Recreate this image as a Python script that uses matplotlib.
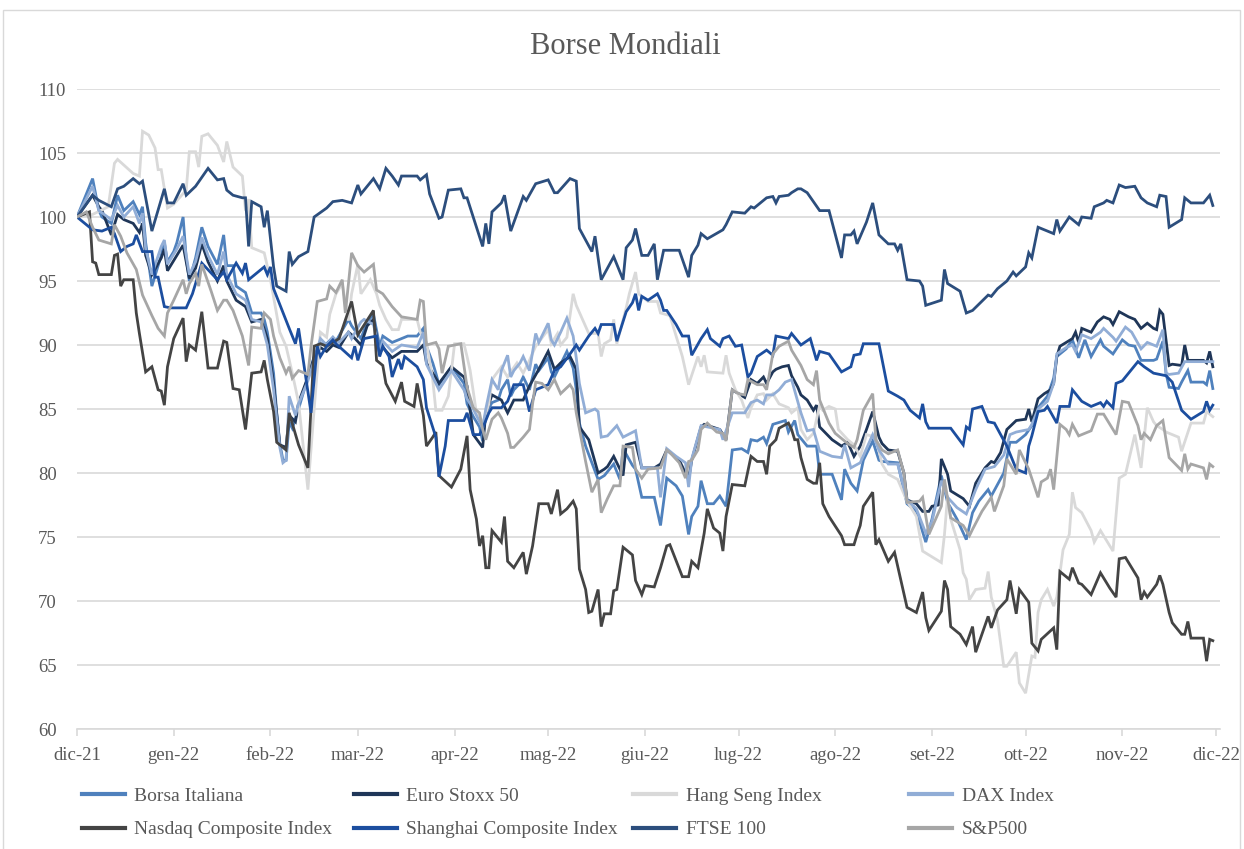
import numpy as np
import pandas as pd
import matplotlib
matplotlib.use("Agg")
import matplotlib.pyplot as plt
import matplotlib.dates as mdates
from matplotlib.lines import Line2D
from matplotlib.patches import Rectangle

plt.rcParams['font.family'] = ['Liberation Serif', 'DejaVu Serif']

# DATA: day offsets from 1 Dec 2021, index level (base 100)
START = "2021-12-01"
MONTH_LABELS = ['dic-21', 'gen-22', 'feb-22', 'mar-22', 'apr-22', 'mag-22', 'giu-22',
                'lug-22', 'ago-22', 'set-22', 'ott-22', 'nov-22', 'dic-22']

borsa_days = [0, 5, 7, 8, 11, 13, 15, 18, 20, 21, 22, 24, 27, 28, 29, 31, 32, 34, 35, 36, 38, 40, 42, 45, 47, 48, 50, 51, 54, 56, 59, 60, 61, 63, 64, 65, 66, 67, 68, 69, 71, 74, 76, 78, 80, 82, 83, 87, 88, 91, 93, 95, 97, 98, 101, 104, 106, 109, 111, 112, 114, 115, 116, 120, 121, 124, 125, 127, 129, 130, 131, 133, 135, 136, 138, 139, 140, 142, 143, 145, 147, 148, 151, 152, 153, 155, 157, 159, 160, 161, 163, 167, 169, 172, 174, 175, 178, 179, 181, 185, 187, 189, 192, 194, 196, 197, 199, 200, 202, 204, 206, 208, 210, 213, 215, 216, 218, 220, 221, 223, 227, 228, 230, 231, 234, 237, 238, 242, 245, 246, 248, 250, 252, 255, 257, 258, 263, 266, 269, 272, 274, 277, 279, 282, 285, 287, 289, 292, 293, 295, 297, 299, 301, 304, 306, 308, 311, 313, 314, 317, 319, 321, 323, 325, 328, 329, 332, 335, 337, 339, 341, 345, 346, 348, 349, 350, 353, 354, 356, 357, 361, 362, 363, 364]
borsa_vals = [100, 103.0, 100.5, 100.0, 99.5, 101.7, 100.5, 101.2, 100.2, 100.8, 98.0, 94.6, 97.0, 98.0, 96.5, 97.3, 98.0, 100.0, 96.8, 95.0, 96.8, 99.2, 97.7, 96.3, 98.6, 96.2, 96.2, 94.6, 94.1, 92.5, 92.5, 92.0, 91.0, 87.8, 84.7, 82.3, 81.0, 81.0, 84.0, 83.5, 85.0, 87.5, 89.1, 90.1, 90.1, 90.6, 90.3, 92.0, 91.5, 90.5, 91.8, 92.4, 89.9, 90.7, 90.2, 90.5, 90.7, 90.7, 91.3, 89.9, 88.6, 87.8, 86.9, 88.3, 88.0, 87.0, 85.4, 84.4, 83.6, 82.5, 84.7, 85.5, 85.7, 86.5, 87.3, 86.0, 86.5, 87.0, 87.5, 86.5, 88.5, 88.0, 89.0, 87.9, 87.5, 88.5, 89.5, 88.2, 86.5, 83.9, 82.1, 79.5, 79.8, 80.7, 79.5, 81.9, 80.6, 80.3, 78.1, 78.1, 75.9, 79.6, 79.0, 78.2, 75.2, 76.6, 77.4, 79.4, 77.6, 77.6, 78.2, 77.4, 81.8, 81.9, 81.6, 82.6, 82.5, 82.8, 82.3, 83.8, 84.1, 83.2, 84.1, 83.0, 82.1, 82.1, 79.9, 79.9, 77.9, 80.3, 79.2, 78.6, 81.0, 82.5, 81.0, 80.9, 80.8, 77.6, 77.0, 74.6, 76.4, 79.8, 77.7, 76.4, 74.8, 76.9, 77.8, 78.7, 78.2, 79.1, 80.0, 82.4, 82.4, 83.0, 83.7, 85.1, 86.0, 87.4, 89.1, 89.7, 90.4, 89.0, 90.4, 89.1, 90.4, 89.9, 89.3, 90.4, 90.0, 89.9, 88.8, 88.8, 88.9, 90.3, 87.8, 86.7, 86.6, 87.1, 88.0, 87.1, 87.1, 86.9, 88.0, 86.6]

euro_days = [0, 5, 7, 8, 11, 13, 15, 18, 20, 21, 22, 24, 27, 28, 29, 32, 34, 36, 38, 40, 42, 45, 47, 48, 51, 54, 56, 59, 61, 63, 65, 67, 68, 70, 71, 74, 76, 78, 80, 82, 84, 87, 88, 91, 93, 95, 97, 98, 101, 104, 109, 111, 112, 116, 120, 124, 125, 127, 130, 131, 133, 136, 138, 140, 143, 145, 148, 151, 153, 155, 158, 160, 161, 164, 167, 169, 170, 172, 175, 176, 179, 181, 185, 187, 189, 193, 196, 197, 200, 201, 206, 208, 210, 214, 216, 218, 220, 221, 223, 224, 226, 228, 229, 231, 232, 234, 236, 237, 238, 240, 242, 245, 247, 249, 251, 253, 255, 257, 258, 260, 263, 265, 266, 269, 271, 273, 274, 276, 277, 279, 280, 282, 284, 286, 288, 291, 293, 294, 296, 298, 301, 304, 305, 306, 308, 310, 312, 313, 314, 315, 317, 319, 320, 321, 322, 325, 327, 329, 331, 332, 334, 337, 339, 341, 343, 345, 346, 347, 348, 350, 351, 354, 355, 356, 361, 362, 363, 364]
euro_vals = [100, 101.7, 100.8, 100.5, 98.6, 100.2, 99.8, 99.5, 98.8, 99.5, 97.0, 95.5, 96.8, 97.5, 95.8, 97.0, 97.8, 95.2, 96.0, 97.9, 96.5, 95.0, 96.2, 95.0, 93.5, 93.0, 91.8, 92.0, 90.5, 87.0, 82.2, 82.0, 84.5, 84.0, 85.5, 87.5, 89.0, 89.8, 89.5, 90.0, 89.8, 91.0, 90.8, 90.0, 91.5, 92.0, 89.3, 89.8, 89.0, 89.5, 89.5, 90.0, 88.6, 87.0, 88.3, 87.5, 86.8, 83.0, 82.0, 84.7, 86.1, 85.7, 84.7, 85.7, 85.7, 86.8, 88.1, 89.5, 88.1, 88.6, 89.1, 88.1, 83.6, 82.6, 80.0, 80.3, 80.5, 81.3, 79.8, 82.2, 82.4, 80.4, 80.4, 80.7, 81.8, 81.0, 79.5, 81.0, 83.6, 83.8, 83.4, 82.6, 86.5, 85.9, 87.3, 87.0, 87.5, 87.0, 87.9, 88.1, 88.3, 88.4, 87.6, 86.7, 86.1, 85.7, 84.9, 85.3, 83.6, 83.1, 82.6, 82.1, 82.4, 81.3, 82.1, 83.4, 84.8, 82.8, 82.3, 81.8, 81.7, 80.0, 77.9, 77.6, 77.0, 77.0, 77.4, 77.5, 81.1, 79.9, 78.6, 78.3, 78.0, 77.4, 79.2, 80.4, 80.9, 80.8, 81.6, 83.4, 84.1, 84.2, 85.0, 84.0, 85.8, 86.2, 86.5, 87.0, 89.1, 89.9, 90.2, 90.5, 91.0, 90.2, 91.3, 91.0, 91.8, 92.2, 92.0, 91.6, 92.6, 92.2, 92.0, 91.3, 91.7, 91.3, 91.2, 92.7, 92.4, 88.4, 88.5, 88.4, 90.0, 88.8, 88.8, 88.6, 89.5, 88.3]

hangseng_days = [0, 5, 10, 12, 13, 18, 20, 21, 23, 25, 26, 27, 29, 31, 35, 36, 38, 39, 40, 42, 45, 47, 48, 50, 53, 54, 55, 56, 59, 60, 62, 65, 67, 69, 71, 74, 76, 78, 80, 81, 83, 85, 87, 88, 90, 91, 94, 96, 97, 99, 101, 103, 104, 109, 110, 112, 114, 115, 117, 119, 120, 121, 124, 125, 126, 128, 130, 132, 133, 136, 138, 139, 141, 143, 145, 147, 151, 152, 154, 155, 157, 159, 160, 162, 164, 167, 168, 169, 171, 172, 173, 176, 177, 179, 180, 183, 186, 187, 190, 192, 194, 196, 199, 200, 201, 202, 207, 208, 209, 211, 213, 215, 216, 218, 220, 221, 223, 225, 228, 229, 231, 232, 234, 236, 238, 239, 241, 243, 244, 247, 249, 251, 253, 256, 258, 260, 263, 266, 269, 271, 273, 277, 278, 279, 280, 283, 284, 285, 286, 288, 291, 292, 293, 295, 297, 298, 301, 302, 304, 306, 307, 308, 309, 311, 313, 314, 316, 318, 319, 320, 322, 325, 326, 328, 332, 334, 336, 339, 341, 343, 345, 346, 348, 349, 353, 354, 357, 361, 362, 364]
hangseng_vals = [100, 100.2, 100.8, 104.2, 104.5, 103.4, 103.2, 106.7, 106.4, 105.4, 103.7, 103.7, 100.7, 101.0, 102.1, 105.1, 105.1, 103.9, 106.3, 106.5, 105.6, 104.3, 105.9, 103.9, 103.2, 100.5, 101.4, 97.6, 97.3, 97.2, 95.1, 91.0, 89.9, 87.8, 85.5, 78.7, 85.0, 91.0, 90.6, 92.4, 94.0, 94.8, 91.9, 94.0, 96.3, 94.0, 95.1, 94.0, 93.1, 92.0, 91.2, 91.2, 92.0, 92.0, 91.0, 90.2, 87.3, 84.9, 84.9, 86.0, 88.0, 90.1, 90.1, 89.1, 88.0, 84.7, 83.9, 85.4, 87.3, 88.3, 87.5, 87.9, 88.6, 87.8, 88.8, 89.9, 91.2, 90.1, 90.9, 90.0, 90.6, 94.0, 93.1, 92.0, 90.9, 90.9, 89.1, 90.1, 90.4, 92.0, 90.1, 92.9, 94.0, 95.7, 94.0, 93.4, 93.4, 92.5, 92.3, 90.7, 89.1, 86.9, 89.1, 88.3, 89.2, 87.9, 87.8, 89.2, 87.8, 86.5, 85.7, 84.3, 85.1, 86.1, 86.2, 85.7, 86.2, 85.4, 85.1, 84.7, 85.1, 83.4, 82.6, 83.1, 85.3, 84.9, 85.2, 85.0, 83.4, 82.6, 82.2, 81.3, 83.0, 82.8, 80.7, 79.9, 79.5, 77.8, 76.6, 73.9, 73.6, 73.0, 75.2, 78.2, 76.4, 74.0, 72.2, 71.7, 70.1, 70.9, 71.0, 72.3, 70.3, 68.5, 64.9, 64.9, 66.0, 63.6, 62.8, 65.7, 65.6, 69.1, 70.1, 70.9, 69.6, 70.3, 74.0, 75.2, 78.5, 77.3, 76.9, 75.5, 74.6, 75.5, 73.9, 79.6, 79.9, 83.0, 80.4, 85.1, 84.0, 83.7, 83.4, 83.2, 82.8, 81.7, 83.9, 83.9, 84.8, 84.4]

dax_days = [0, 5, 7, 11, 13, 15, 18, 20, 21, 22, 24, 27, 28, 29, 32, 34, 36, 38, 40, 42, 45, 47, 48, 51, 54, 56, 59, 61, 63, 65, 66, 67, 68, 70, 71, 74, 76, 78, 80, 82, 84, 87, 88, 91, 92, 95, 97, 98, 101, 104, 109, 111, 112, 114, 116, 120, 124, 125, 127, 130, 131, 133, 135, 136, 138, 139, 140, 142, 143, 145, 147, 148, 151, 152, 153, 155, 157, 159, 160, 161, 163, 166, 167, 168, 170, 173, 175, 179, 181, 186, 187, 189, 192, 195, 196, 197, 200, 202, 206, 207, 210, 214, 216, 218, 220, 221, 223, 225, 227, 229, 232, 234, 236, 238, 242, 245, 246, 248, 251, 255, 257, 260, 263, 266, 269, 272, 274, 277, 279, 282, 285, 288, 291, 294, 297, 299, 301, 305, 306, 308, 311, 313, 314, 317, 319, 320, 322, 325, 328, 329, 332, 333, 336, 338, 341, 343, 346, 348, 349, 350, 353, 355, 357, 364]
dax_vals = [100, 102.4, 100.5, 99.8, 100.9, 100.0, 100.8, 99.5, 100.3, 97.5, 95.5, 97.7, 98.2, 96.3, 97.5, 98.5, 95.5, 96.5, 98.4, 97.0, 95.5, 97.3, 95.5, 94.0, 93.5, 92.0, 91.8, 90.0, 86.5, 82.0, 80.8, 81.0, 86.0, 84.5, 85.4, 87.2, 88.8, 90.5, 90.0, 90.6, 90.2, 91.0, 90.5, 91.8, 92.0, 91.6, 89.5, 90.3, 89.5, 90.0, 89.8, 91.0, 88.5, 87.5, 86.5, 88.0, 86.5, 85.8, 85.0, 83.5, 85.0, 87.3, 86.5, 88.0, 89.2, 87.5, 88.0, 88.6, 89.1, 88.0, 90.9, 90.2, 91.7, 90.4, 90.0, 91.0, 92.1, 90.7, 89.0, 87.0, 84.7, 85.0, 84.8, 82.8, 82.9, 83.7, 82.8, 83.3, 80.4, 80.4, 78.1, 81.9, 81.3, 80.8, 78.9, 81.1, 83.7, 83.6, 83.4, 82.6, 84.7, 84.7, 85.5, 85.7, 85.4, 86.1, 86.1, 86.5, 87.1, 87.3, 84.7, 83.3, 83.4, 81.7, 81.3, 81.2, 82.2, 80.4, 80.8, 83.0, 81.8, 80.7, 80.7, 77.9, 77.2, 75.3, 76.2, 79.4, 78.1, 77.3, 76.8, 78.7, 80.3, 80.5, 81.4, 83.0, 83.2, 83.4, 83.8, 85.0, 85.6, 87.0, 89.3, 89.8, 90.0, 89.5, 90.8, 90.5, 91.0, 91.3, 90.6, 90.3, 91.4, 91.0, 89.7, 90.2, 89.9, 91.2, 87.8, 87.7, 87.8, 88.7, 88.7, 88.7]

nasdaq_days = [0, 4, 5, 6, 7, 11, 12, 13, 14, 15, 18, 19, 20, 22, 24, 26, 27, 28, 29, 31, 34, 35, 36, 38, 40, 42, 45, 47, 48, 50, 52, 54, 56, 59, 60, 61, 63, 64, 67, 68, 71, 74, 76, 78, 80, 82, 84, 88, 90, 95, 96, 98, 99, 102, 104, 105, 108, 109, 111, 112, 114, 115, 116, 120, 123, 125, 126, 128, 129, 130, 131, 132, 133, 136, 137, 138, 140, 143, 144, 146, 148, 151, 152, 154, 155, 157, 159, 160, 161, 163, 164, 165, 167, 168, 169, 171, 172, 173, 175, 178, 179, 181, 182, 185, 187, 189, 190, 194, 196, 197, 199, 201, 202, 204, 206, 207, 208, 210, 214, 216, 218, 220, 221, 222, 224, 225, 228, 229, 230, 231, 232, 234, 236, 237, 238, 239, 241, 245, 246, 249, 250, 251, 252, 255, 256, 257, 260, 262, 266, 269, 271, 272, 273, 277, 278, 279, 280, 283, 285, 287, 288, 292, 293, 295, 298, 299, 301, 302, 305, 306, 308, 309, 313, 314, 315, 317, 318, 319, 321, 322, 325, 328, 331, 333, 334, 336, 337, 340, 341, 342, 343, 346, 347, 348, 350, 351, 354, 355, 356, 357, 361, 362, 363, 364]
nasdaq_vals = [100, 100.4, 96.5, 96.4, 95.5, 95.5, 97.0, 97.1, 94.6, 95.1, 95.1, 92.5, 90.9, 87.9, 88.3, 86.5, 86.4, 85.3, 88.3, 90.5, 92.1, 88.7, 90.0, 89.6, 92.6, 88.2, 88.2, 90.3, 90.2, 86.6, 86.5, 83.4, 87.8, 87.9, 88.8, 87.3, 84.8, 82.4, 81.8, 84.7, 82.2, 80.4, 89.9, 90.1, 89.9, 90.2, 90.5, 93.4, 90.8, 92.7, 88.8, 88.4, 87.0, 85.6, 87.1, 85.6, 85.2, 87.0, 84.5, 82.1, 82.8, 83.2, 79.8, 78.9, 80.3, 82.9, 78.7, 76.4, 74.3, 75.1, 72.6, 72.6, 75.5, 74.6, 76.6, 73.1, 72.6, 73.8, 72.1, 74.3, 77.6, 77.6, 76.8, 78.7, 76.8, 77.2, 77.8, 77.2, 72.5, 70.9, 69.1, 69.2, 70.9, 68.0, 69.0, 69.0, 70.8, 70.9, 74.2, 73.6, 71.6, 70.5, 71.2, 71.1, 72.6, 74.3, 74.4, 71.9, 71.9, 73.1, 72.6, 75.3, 77.2, 75.7, 75.3, 73.9, 76.6, 79.1, 79.0, 81.3, 80.9, 80.9, 79.9, 82.1, 82.6, 83.5, 83.9, 83.4, 82.6, 82.6, 81.2, 79.5, 79.2, 79.2, 80.8, 77.6, 76.6, 75.1, 74.4, 74.4, 75.2, 75.9, 77.4, 78.5, 74.4, 74.8, 73.1, 73.8, 69.5, 69.1, 70.7, 68.7, 67.7, 69.2, 71.6, 70.9, 68.0, 67.4, 66.6, 68.0, 66.0, 68.8, 67.9, 69.3, 70.1, 71.6, 69.0, 70.9, 69.9, 66.7, 66.1, 67.0, 67.9, 66.2, 72.3, 71.9, 71.7, 72.6, 71.4, 71.3, 70.5, 72.2, 71.0, 70.3, 73.3, 73.4, 73.0, 71.8, 70.1, 70.7, 70.3, 71.3, 72.0, 71.3, 69.1, 68.3, 67.4, 67.4, 68.4, 67.1, 67.1, 65.3, 67.0, 66.9]

shanghai_days = [0, 5, 8, 11, 12, 14, 16, 18, 19, 21, 24, 25, 26, 28, 30, 35, 37, 40, 45, 47, 48, 51, 53, 54, 55, 60, 61, 62, 63, 68, 70, 71, 75, 77, 78, 80, 82, 83, 88, 89, 90, 92, 96, 97, 98, 100, 101, 103, 104, 105, 109, 111, 112, 115, 116, 118, 119, 124, 125, 127, 129, 130, 132, 133, 136, 138, 140, 143, 145, 147, 151, 153, 155, 158, 160, 161, 164, 166, 167, 168, 172, 173, 176, 178, 179, 180, 181, 183, 186, 187, 188, 189, 192, 194, 196, 197, 200, 202, 203, 206, 207, 209, 211, 213, 215, 216, 218, 221, 223, 224, 228, 229, 232, 235, 237, 238, 241, 245, 248, 249, 251, 252, 257, 260, 263, 265, 267, 270, 271, 272, 273, 280, 284, 285, 286, 287, 290, 292, 294, 298, 301, 304, 305, 306, 308, 310, 311, 314, 315, 318, 319, 322, 325, 328, 329, 330, 332, 333, 335, 337, 340, 342, 345, 349, 351, 354, 357, 361, 362, 363, 364]
shanghai_vals = [100, 99.0, 98.9, 99.2, 98.7, 97.3, 97.7, 97.9, 98.6, 97.3, 97.3, 95.3, 95.3, 93.0, 92.9, 92.9, 94.0, 96.4, 95.1, 95.7, 95.1, 96.4, 95.6, 96.4, 95.1, 96.1, 95.5, 96.1, 94.4, 91.3, 90.1, 91.3, 84.7, 89.9, 89.1, 89.9, 90.4, 90.1, 89.0, 89.9, 88.8, 90.5, 90.7, 89.1, 89.9, 89.1, 87.5, 88.9, 88.1, 89.1, 88.3, 87.3, 85.1, 82.8, 79.7, 82.1, 84.1, 84.1, 84.7, 83.0, 83.0, 83.5, 84.7, 85.1, 85.1, 85.6, 86.9, 86.9, 84.8, 86.5, 86.9, 88.0, 88.3, 89.3, 90.0, 89.6, 90.7, 91.3, 90.9, 91.6, 91.6, 90.3, 92.6, 93.3, 94.0, 92.7, 93.8, 93.5, 94.0, 93.5, 92.7, 92.7, 91.6, 90.7, 90.7, 89.2, 90.5, 91.2, 90.5, 89.9, 90.5, 90.7, 89.9, 90.0, 87.5, 87.8, 89.1, 89.6, 89.2, 90.7, 90.5, 90.9, 90.0, 90.5, 88.8, 89.5, 89.3, 87.9, 88.3, 89.2, 89.3, 90.1, 90.1, 86.4, 86.0, 85.7, 84.9, 84.3, 85.4, 84.0, 83.5, 83.5, 82.2, 83.6, 83.4, 85.0, 85.2, 84.0, 83.9, 82.1, 80.3, 80.0, 82.1, 82.9, 84.8, 84.9, 85.2, 83.9, 85.2, 85.2, 86.5, 85.6, 85.2, 85.5, 85.2, 85.6, 85.1, 87.0, 87.2, 87.8, 88.7, 88.3, 87.8, 87.6, 87.1, 84.9, 84.2, 84.8, 85.6, 84.9, 85.3]

ftse_days = [0, 5, 7, 11, 13, 15, 18, 20, 21, 24, 28, 29, 31, 34, 35, 38, 42, 45, 47, 48, 50, 53, 54, 55, 56, 59, 60, 61, 63, 64, 67, 68, 69, 71, 74, 76, 80, 82, 85, 88, 90, 91, 95, 97, 99, 101, 103, 104, 109, 110, 112, 113, 116, 117, 119, 123, 124, 125, 130, 131, 132, 133, 136, 137, 139, 143, 144, 147, 151, 153, 154, 158, 160, 161, 165, 166, 168, 172, 175, 176, 178, 179, 181, 183, 185, 186, 188, 193, 196, 197, 199, 200, 202, 207, 208, 210, 214, 216, 217, 221, 223, 224, 225, 228, 229, 231, 232, 234, 236, 238, 241, 245, 246, 248, 249, 250, 253, 255, 257, 260, 262, 263, 264, 266, 270, 271, 272, 277, 278, 279, 283, 285, 287, 292, 293, 295, 298, 300, 301, 304, 305, 306, 308, 311, 313, 314, 315, 318, 321, 322, 325, 326, 329, 330, 332, 334, 336, 339, 341, 343, 346, 347, 349, 350, 354, 355, 357, 361, 363, 364]
ftse_vals = [100.0, 101.7, 101.3, 100.8, 102.2, 102.4, 103.0, 102.6, 102.8, 98.9, 102.2, 101.1, 101.1, 102.6, 101.7, 102.4, 103.8, 102.9, 103.0, 102.1, 101.7, 101.5, 101.5, 97.7, 101.2, 100.8, 99.2, 100.5, 96.1, 94.6, 94.2, 97.3, 96.3, 96.9, 97.3, 100.0, 100.7, 101.2, 101.3, 101.1, 102.5, 101.8, 103.0, 102.2, 103.8, 103.2, 102.5, 103.2, 103.2, 102.9, 103.3, 101.8, 99.9, 100.0, 102.1, 102.2, 101.5, 101.5, 97.7, 99.5, 97.9, 100.4, 101.1, 101.7, 98.9, 101.6, 101.3, 102.6, 102.9, 101.9, 101.9, 103.0, 102.8, 99.1, 97.3, 98.5, 95.1, 96.9, 95.1, 97.6, 98.2, 99.1, 97.0, 97.0, 97.9, 95.1, 97.4, 97.4, 95.3, 97.0, 97.8, 98.7, 98.3, 99.0, 99.4, 100.4, 100.3, 100.8, 100.7, 101.5, 101.6, 101.1, 101.6, 101.7, 101.9, 102.2, 102.2, 101.9, 101.2, 100.5, 100.5, 96.8, 98.6, 98.6, 98.9, 97.9, 99.6, 101.1, 98.6, 97.9, 97.9, 97.4, 97.9, 95.1, 95.0, 94.6, 93.1, 93.5, 95.9, 94.8, 94.2, 92.5, 92.7, 93.9, 93.8, 94.4, 95.0, 95.7, 95.4, 96.1, 97.2, 96.8, 99.2, 98.9, 98.7, 99.8, 98.9, 100.0, 99.4, 100.0, 99.9, 100.8, 101.1, 101.3, 101.1, 102.5, 102.3, 102.4, 101.5, 101.1, 100.8, 101.7, 101.6, 99.2, 99.8, 101.5, 101.1, 101.1, 101.7, 100.9]

sp500_days = [0, 3, 5, 7, 11, 12, 14, 16, 19, 21, 24, 26, 28, 29, 31, 34, 35, 36, 38, 39, 40, 43, 45, 47, 48, 50, 53, 55, 56, 59, 60, 62, 63, 65, 67, 68, 69, 71, 74, 75, 77, 80, 81, 83, 84, 85, 86, 87, 88, 90, 92, 95, 96, 98, 101, 104, 109, 110, 111, 112, 115, 116, 117, 119, 123, 125, 127, 129, 130, 131, 133, 135, 136, 138, 139, 140, 143, 145, 146, 147, 149, 151, 153, 155, 158, 159, 160, 163, 165, 167, 168, 170, 172, 174, 175, 178, 179, 181, 183, 187, 189, 190, 193, 195, 196, 197, 199, 200, 202, 205, 207, 208, 210, 212, 214, 215, 218, 220, 221, 223, 225, 228, 229, 232, 234, 236, 237, 238, 241, 243, 247, 249, 250, 252, 255, 256, 258, 260, 263, 265, 266, 270, 271, 273, 277, 278, 280, 284, 286, 287, 290, 293, 294, 297, 298, 301, 302, 305, 308, 309, 311, 312, 313, 315, 317, 318, 319, 321, 325, 327, 329, 332, 333, 335, 337, 340, 341, 342, 344, 346, 348, 349, 350, 354, 355, 356, 357, 361, 362, 363, 364]
sp500_vals = [100, 100.4, 99.2, 98.2, 97.9, 99.4, 98.5, 97.2, 95.9, 93.9, 92.3, 91.3, 90.7, 92.5, 93.5, 95.1, 94.0, 94.8, 95.6, 94.6, 96.3, 94.2, 92.7, 93.5, 93.5, 92.7, 90.7, 88.4, 91.4, 91.3, 92.5, 92.0, 90.7, 89.0, 87.8, 88.3, 87.4, 88.0, 87.7, 89.9, 93.4, 93.6, 94.6, 94.1, 94.6, 95.1, 92.5, 94.8, 97.2, 96.2, 95.7, 96.3, 94.3, 94.0, 93.0, 92.2, 92.0, 93.5, 93.4, 90.0, 90.2, 89.7, 87.8, 89.9, 90.1, 86.7, 85.1, 84.7, 83.4, 82.6, 84.2, 84.7, 84.3, 83.1, 82.0, 82.0, 82.8, 83.4, 85.4, 87.1, 87.0, 86.5, 87.3, 86.2, 86.9, 86.5, 84.7, 80.9, 78.5, 79.5, 76.9, 78.0, 79.0, 79.0, 82.1, 82.0, 80.3, 79.6, 80.3, 80.4, 81.8, 81.6, 80.8, 79.6, 80.9, 81.0, 81.8, 83.4, 83.9, 83.2, 83.1, 82.5, 86.5, 86.2, 86.1, 87.3, 86.9, 86.9, 86.5, 89.3, 89.9, 90.3, 89.6, 88.4, 87.3, 86.9, 88.0, 85.7, 83.9, 83.1, 82.3, 82.0, 82.6, 84.9, 86.2, 82.6, 81.8, 81.5, 81.8, 80.0, 77.7, 77.8, 78.1, 75.2, 77.4, 79.5, 76.5, 75.9, 75.1, 75.6, 77.0, 78.1, 77.0, 79.0, 81.1, 79.9, 81.8, 80.3, 78.1, 79.3, 79.6, 80.3, 78.7, 83.8, 83.4, 83.0, 83.8, 82.9, 83.3, 84.6, 84.6, 83.4, 83.0, 85.6, 85.5, 83.7, 82.6, 83.1, 82.6, 83.7, 84.1, 82.6, 81.2, 80.2, 81.5, 80.3, 80.7, 80.4, 79.5, 80.7, 80.5]

series = [
    ("Borsa Italiana", borsa_days, borsa_vals, "#4F81BD"),
    ("Euro Stoxx 50", euro_days, euro_vals, "#1F3658"),
    ("Hang Seng Index", hangseng_days, hangseng_vals, "#D9D9D9"),
    ("DAX Index", dax_days, dax_vals, "#91ADD6"),
    ("Nasdaq Composite Index", nasdaq_days, nasdaq_vals, "#444444"),
    ("Shanghai Composite Index", shanghai_days, shanghai_vals, "#1C4E9F"),
    ("FTSE 100", ftse_days, ftse_vals, "#2C4E7D"),
    ("S&P500", sp500_days, sp500_vals, "#A6A6A6"),
]

TEXT = "#595959"
GRID = "#D9D9D9"

fig = plt.figure(figsize=(12.44, 8.49), dpi=100)
ax = fig.add_axes([77 / 1244, 1 - 729 / 849, (1220 - 77) / 1244, (729 - 89) / 849])

start = mdates.datestr2num(START)
for name, days, vals, color in series:
    ax.plot(start + np.array(days, dtype=float), vals, color=color, lw=2.0,
            label=name, solid_joinstyle='miter')

# axes styling
ax.set_ylim(60, 110)
ax.set_yticks(np.arange(60, 111, 5))
ax.set_xlim(start, start + 366.3)
month_ticks = mdates.date2num(pd.date_range(START, periods=len(MONTH_LABELS), freq="MS"))
ax.set_xticks(month_ticks)
ax.set_xticklabels(MONTH_LABELS)
ax.grid(axis='y', color=GRID, lw=1.2)
ax.set_axisbelow(True)
for s in ['top', 'right', 'left']:
    ax.spines[s].set_visible(False)
ax.spines['bottom'].set_color(GRID)
ax.spines['bottom'].set_linewidth(1.2)
ax.tick_params(axis='y', length=0, pad=28, labelsize=13.5, labelcolor=TEXT)
ax.tick_params(axis='x', length=5, width=1.2, color=GRID, pad=8, labelsize=13.5, labelcolor=TEXT)
for lab in ax.get_yticklabels():
    lab.set_horizontalalignment('left')

fig.text(0.503, 1 - 47 / 849, "Borse Mondiali", ha='center', va='center',
         fontsize=22, color=TEXT)

# legend: 4 columns x 2 rows, row-wise order as in the source
col_x = [82, 354, 633, 909]
handles = [Line2D([], [], color=c, lw=3.0) for _, _, _, c in series]
names = [n for n, _, _, _ in series]
for j in range(4):
    idx = [j, j + 4]
    fig.legend([handles[i] for i in idx], [names[i] for i in idx],
               loc='upper left', bbox_to_anchor=(col_x[j] / 1244, 1 - 787 / 849),
               frameon=False, fontsize=14, handlelength=2.2, handletextpad=0.5,
               labelspacing=0.83, borderaxespad=0, borderpad=0, labelcolor=TEXT)

# outer chart border
fig.patches.append(Rectangle((3 / 1244, -0.01), 1237 / 1244, 1 - 10 / 849 + 0.01,
                             transform=fig.transFigure, fill=False, edgecolor=GRID, lw=1.0))

fig.savefig("out.png", dpi=100)
